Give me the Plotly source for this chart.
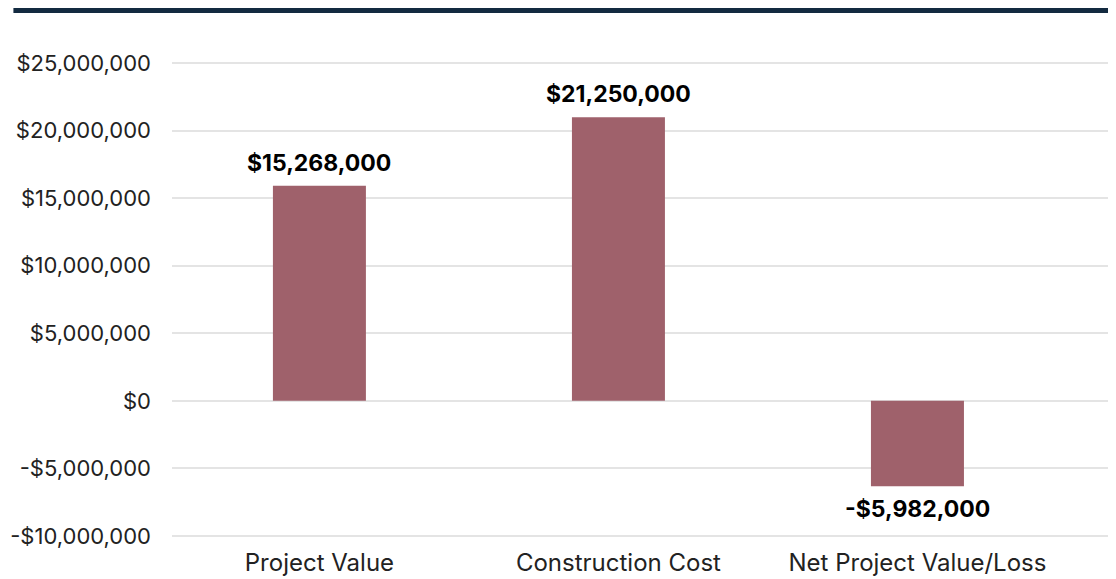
import plotly.graph_objects as go

# data
categories = ["Project Value", "Construction Cost", "Net Project Value/Loss"]
bar_values = [15_920_000, 20_980_000, -6_320_000]
bar_labels = ["$15,268,000", "$21,250,000", "-$5,982,000"]
tick_values = [25_000_000, 20_000_000, 15_000_000, 10_000_000, 5_000_000, 0,
               -5_000_000, -10_000_000]
tick_labels = ["$25,000,000", "$20,000,000", "$15,000,000", "$10,000,000",
               "$5,000,000", "$0", "-$5,000,000", "-$10,000,000"]

BAR_COLOR = "#9F616B"
GRID = "#E4E4E4"
TEXT = "#222222"

fig = go.Figure(go.Bar(
    x=list(range(len(categories))), y=bar_values,
    marker=dict(color=BAR_COLOR, line=dict(width=0)),
    width=0.311, hoverinfo="skip",
))

# value labels above / below each bar
for i, (v, lab) in enumerate(zip(bar_values, bar_labels)):
    fig.add_annotation(
        x=i, y=v, text=f"<b>{lab}</b>", showarrow=False,
        yanchor="bottom" if v >= 0 else "top",
        yshift=7 if v >= 0 else -7,
        font=dict(family="Inter", size=23, color="#000000"),
    )

# dark rule across the top
fig.add_shape(type="rect", xref="paper", yref="paper",
              x0=-0.168, x1=1.01, y0=1.054, y1=1.068,
              fillcolor="#132A40", line=dict(width=0), layer="above")

fig.update_layout(
    width=1108, height=571,
    margin=dict(l=164, r=0, t=32, b=39),
    plot_bgcolor="white", paper_bgcolor="white",
    showlegend=False,
    font=dict(family="Inter", size=22, color=TEXT),
    xaxis=dict(
        range=[-0.493, 2.664],
        tickmode="array", tickvals=list(range(len(categories))),
        ticktext=categories, showgrid=False, zeroline=False,
        showline=False, ticks="", ticklabelstandoff=6,
        tickfont=dict(family="Inter", size=24, color=TEXT),
    ),
    yaxis=dict(
        range=[-10_300_000, 26_700_000],
        tickmode="array", tickvals=tick_values, ticktext=tick_labels,
        showgrid=True, gridcolor=GRID, gridwidth=1.5,
        zeroline=True, zerolinecolor=GRID, zerolinewidth=1.5,
        showline=False, ticks="", ticklabelstandoff=20,
        tickfont=dict(family="Inter", size=22, color=TEXT),
    ),
)

fig.write_html("out.html")
